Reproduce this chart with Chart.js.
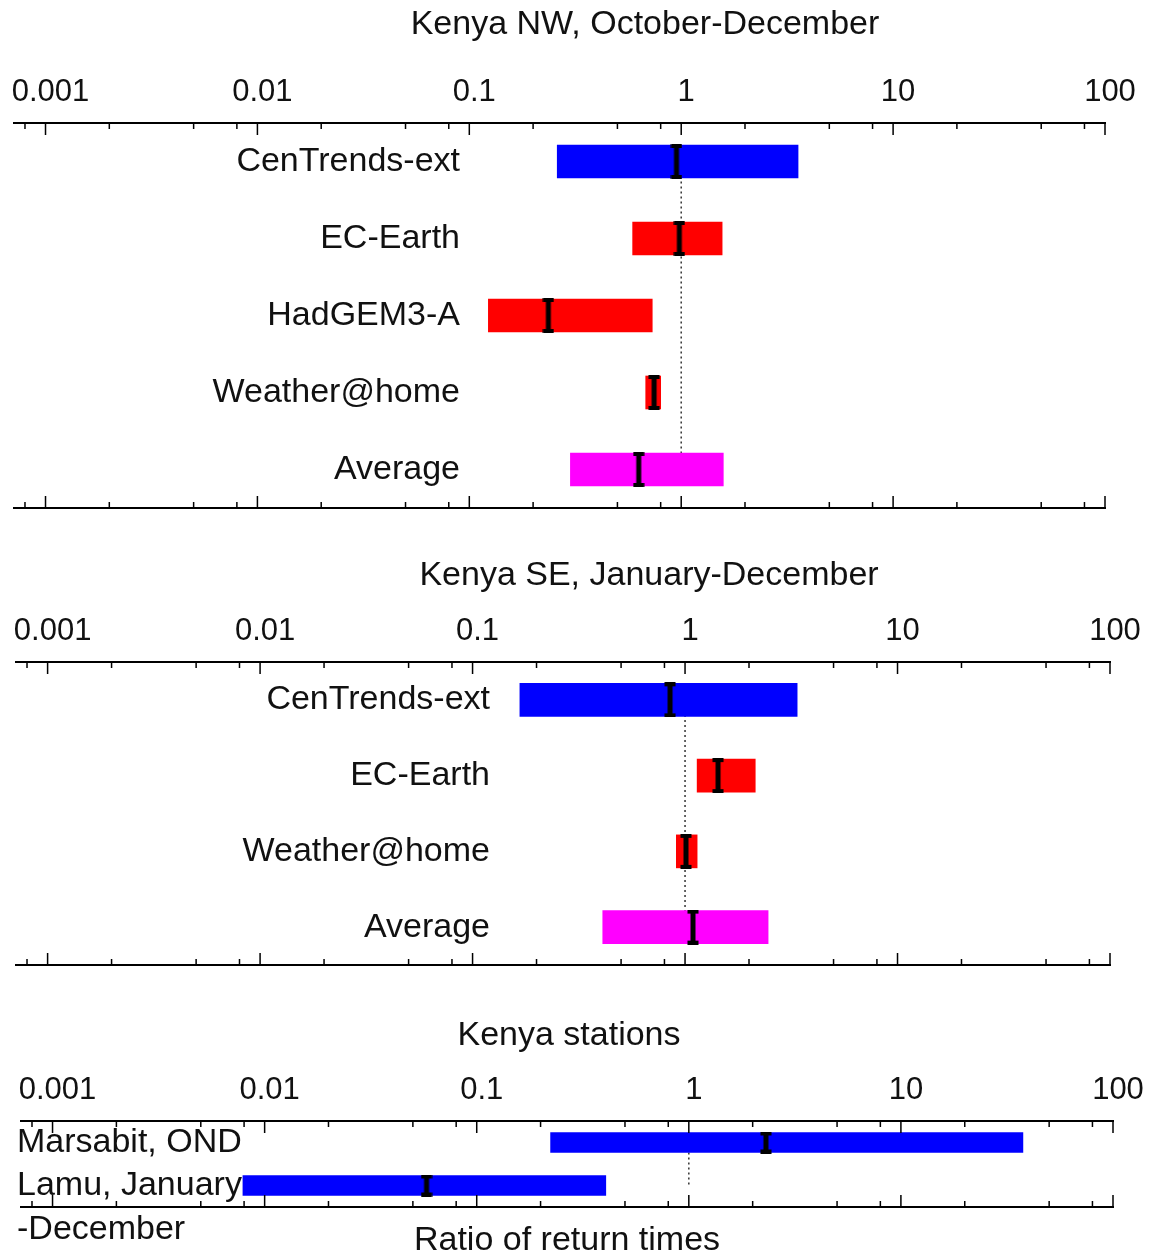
<!DOCTYPE html>
<html>
<head>
<meta charset="utf-8">
<script src="https://cdn.jsdelivr.net/npm/chart.js@4.4.1/dist/chart.umd.min.js"></script>
<style>
body { margin: 0; background: #fff; overflow: hidden; }
canvas { position: absolute; left: 0; }
</style>
</head>
<body>
<canvas id="nw" width="1154" height="540" style="top:0px"></canvas>
<canvas id="se" width="1154" height="460" style="top:540px"></canvas>
<canvas id="st" width="1154" height="258" style="top:1000px"></canvas>
<script>
// Kenya NW, October-December
const nwNames = ['CenTrends-ext', 'EC-Earth', 'HadGEM3-A', 'Weather@home', 'Average'];
const nwLow   = [0.26, 0.59, 0.123, 0.68, 0.30];
const nwHigh  = [3.56, 1.56, 0.73, 0.80, 1.58];
const nwBest  = [0.95, 0.98, 0.236, 0.745, 0.63];

// Kenya SE, January-December
const seNames = ['CenTrends-ext', 'EC-Earth', 'Weather@home', 'Average'];
const seLow   = [0.167, 1.14, 0.91, 0.41];
const seHigh  = [3.37, 2.14, 1.14, 2.46];
const seBest  = [0.85, 1.43, 1.01, 1.09];

// Kenya stations
const stNames = [['Marsabit, OND'], ['Lamu, January', '-December']];
const stLow   = [0.223, 0.0079];
const stHigh  = [37.6, 0.406];
const stBest  = [2.31, 0.058];

// axis
const refLine = 1;
const axisMin = 0.00071;
const axisMax = 100;
const majorTicks = [0.001, 0.01, 0.1, 1, 10, 100];
const tickLabels = ['0.001', '0.01', '0.1', '1', '10', '100'];
const minorTicks = [0.0008, 0.002, 0.005, 0.008, 0.02, 0.05, 0.08, 0.2, 0.5, 0.8, 2, 5, 8, 20, 50, 80];

const BLUE = '#0000ff', RED = '#ff0000', MAGENTA = '#ff00ff';
const FAMILY = '"Liberation Sans", Arial, Helvetica, sans-serif';
const INK = '#111';

// black I shaped marker for the best estimate
function iBeam(h) {
    const c = document.createElement('canvas');
    c.width = 12;
    c.height = h;
    const g = c.getContext('2d');
    g.fillStyle = '#000';
    g.fillRect(3.5, 2, 5, h - 4);
    g.fillRect(0.5, 0, 11, 4);
    g.fillRect(0.5, h - 4, 11, 4);
    return c;
}

// short ticks on top and bottom axis lines, pointing inwards
const tickMarks = {
    id: 'tickMarks',
    afterDraw(chart) {
        const xs = chart.scales.x, a = chart.chartArea, g = chart.ctx;
        g.save();
        g.strokeStyle = '#000';
        g.lineWidth = 1.5;
        xs.ticks.forEach(t => {
            const px = xs.getPixelForValue(t.value);
            const len = majorTicks.includes(t.value) ? 12 : 6;
            g.beginPath();
            g.moveTo(px, a.top);
            g.lineTo(px, a.top + len);
            g.moveTo(px, a.bottom);
            g.lineTo(px, a.bottom - len);
            g.stroke();
        });
        g.restore();
    }
};

// row names inside the plot, and the panel title
const sideText = {
    id: 'sideText',
    afterDraw(chart, args, opts) {
        const g = chart.ctx, ys = chart.scales.y, a = chart.chartArea;
        g.save();
        g.fillStyle = INK;
        g.font = '34px ' + FAMILY;
        g.textBaseline = 'middle';
        g.textAlign = opts.align;
        chart.data.labels.forEach((lab, i) => {
            [].concat(lab).forEach((line, k) => {
                g.fillText(line, a.left + opts.dx, ys.getPixelForValue(i) + opts.dy + k * 44);
            });
        });
        g.textAlign = 'center';
        g.fillText(opts.title, opts.titleX, opts.titleY);
        g.restore();
    }
};

function panel(id, o) {
    return new Chart(document.getElementById(id), {
        type: 'bar',
        data: {
            labels: o.names,
            datasets: [
                {
                    type: 'line',
                    data: o.names.map(() => refLine),
                    borderColor: '#333',
                    borderWidth: 1.5,
                    borderDash: [2, 3],
                    pointRadius: 0,
                    order: 3
                },
                {
                    data: o.low.map((v, i) => [v, o.high[i]]),
                    backgroundColor: o.colors,
                    barThickness: o.thick,
                    order: 2
                },
                {
                    type: 'line',
                    data: o.best,
                    showLine: false,
                    pointStyle: iBeam(o.thick + 2),
                    order: 1
                }
            ]
        },
        options: {
            indexAxis: 'y',
            responsive: false,
            animation: false,
            devicePixelRatio: 1,
            layout: { padding: o.pad },
            scales: {
                x: {
                    type: 'logarithmic',
                    position: 'top',
                    min: axisMin,
                    max: axisMax,
                    afterBuildTicks: s => { s.ticks = majorTicks.concat(minorTicks).sort((p, q) => p - q).map(v => ({ value: v })); },
                    afterFit: s => { s.height = 47; },
                    grid: { display: true, drawOnChartArea: false, drawTicks: false },
                    border: { display: true, color: '#000', width: 2 },
                    ticks: {
                        autoSkip: false,
                        maxRotation: 0,
                        padding: 12,
                        labelOffset: 5,
                        color: INK,
                        font: { size: 31, family: FAMILY },
                        callback: v => {
                            const k = majorTicks.indexOf(v);
                            return k < 0 ? '' : tickLabels[k];
                        }
                    }
                },
                x2: {
                    type: 'logarithmic',
                    position: 'bottom',
                    min: axisMin,
                    max: axisMax,
                    afterFit: s => { if (!o.axisTitle) s.height = 0; },
                    grid: { display: true, drawOnChartArea: false, drawTicks: false },
                    border: { display: true, color: '#000', width: 2 },
                    ticks: { display: false },
                    title: {
                        display: !!o.axisTitle,
                        text: o.axisTitle || '',
                        color: INK,
                        font: { size: 34, family: FAMILY, lineHeight: 1 },
                        padding: { top: 17, bottom: 0 }
                    }
                },
                y: { type: 'category', display: false }
            },
            plugins: {
                legend: { display: false },
                tooltip: { enabled: false },
                sideText: o.text
            }
        },
        plugins: [tickMarks, sideText]
    });
}

panel('nw', {
    names: nwNames, low: nwLow, high: nwHigh, best: nwBest,
    colors: [BLUE, RED, RED, RED, MAGENTA],
    thick: 33,
    pad: { top: 76, left: 14, right: 49, bottom: 32 },
    text: { align: 'right', dx: 446, dy: 0, title: 'Kenya NW, October-December', titleX: 645, titleY: 25 }
});

panel('se', {
    names: seNames, low: seLow, high: seHigh, best: seBest,
    colors: [BLUE, RED, RED, MAGENTA],
    thick: 33,
    pad: { top: 75, left: 16, right: 44, bottom: 35 },
    text: { align: 'right', dx: 474, dy: 0, title: 'Kenya SE, January-December', titleX: 649, titleY: 36 }
});

panel('st', {
    names: stNames, low: stLow, high: stHigh, best: stBest,
    colors: [BLUE, BLUE],
    thick: 20,
    pad: { top: 74, left: 21, right: 41, bottom: 0 },
    axisTitle: 'Ratio of return times',
    text: { align: 'left', dx: -4, dy: 0, title: 'Kenya stations', titleX: 569, titleY: 36 }
});
</script>
</body>
</html>
